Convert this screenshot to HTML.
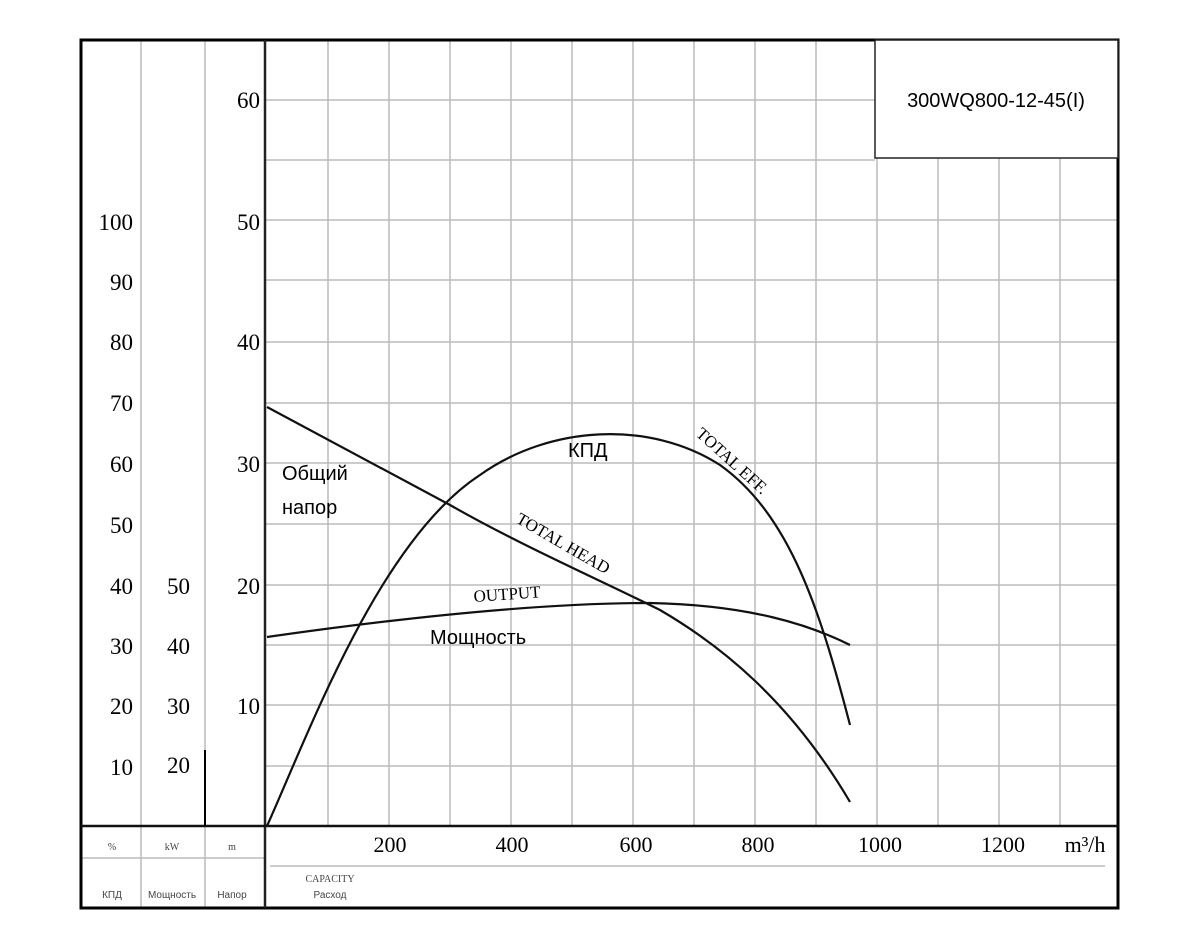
<!DOCTYPE html><html><head><style>body{margin:0;background:#fff}svg{display:block}</style></head><body>
<svg width="1200" height="950" xmlns="http://www.w3.org/2000/svg" font-family="Liberation Serif, serif">
<rect width="1200" height="950" fill="#fff"/>
<g stroke="#bbb" stroke-width="1.5">
<line x1="141" y1="40" x2="141" y2="908"/><line x1="205" y1="40" x2="205" y2="908"/>
<line x1="328" y1="40" x2="328" y2="826"/><line x1="389" y1="40" x2="389" y2="826"/><line x1="450" y1="40" x2="450" y2="826"/><line x1="511" y1="40" x2="511" y2="826"/><line x1="572" y1="40" x2="572" y2="826"/><line x1="633" y1="40" x2="633" y2="826"/><line x1="694" y1="40" x2="694" y2="826"/><line x1="755" y1="40" x2="755" y2="826"/><line x1="816" y1="40" x2="816" y2="826"/><line x1="877" y1="158" x2="877" y2="826"/><line x1="938" y1="158" x2="938" y2="826"/><line x1="999" y1="158" x2="999" y2="826"/><line x1="1060" y1="158" x2="1060" y2="826"/>
<line x1="265" y1="100" x2="875" y2="100"/><line x1="265" y1="160" x2="875" y2="160"/><line x1="265" y1="220" x2="1118" y2="220"/><line x1="265" y1="280" x2="1118" y2="280"/><line x1="265" y1="342" x2="1118" y2="342"/><line x1="265" y1="403" x2="1118" y2="403"/><line x1="265" y1="463" x2="1118" y2="463"/><line x1="265" y1="524" x2="1118" y2="524"/><line x1="265" y1="585" x2="1118" y2="585"/><line x1="265" y1="645" x2="1118" y2="645"/><line x1="265" y1="705" x2="1118" y2="705"/><line x1="265" y1="766" x2="1118" y2="766"/>
<line x1="82" y1="858" x2="265" y2="858"/><line x1="270" y1="866" x2="1105" y2="866"/>
</g>
<rect x="81" y="40" width="1037" height="868" fill="none" stroke="#000" stroke-width="3"/>
<line x1="265" y1="40" x2="265" y2="908" stroke="#222" stroke-width="2.5"/>
<line x1="81" y1="826" x2="1118" y2="826" stroke="#111" stroke-width="2.5"/>
<rect x="875" y="40" width="243" height="118" fill="#fff" stroke="#222" stroke-width="1.5"/>
<line x1="205" y1="750" x2="205" y2="826" stroke="#000" stroke-width="2"/>
<text x="996" y="107" font-family="Liberation Sans, sans-serif" font-size="20" text-anchor="middle">300WQ800-12-45(I)</text>
<g font-size="23" text-anchor="end">
<text x="260" y="108">60</text><text x="260" y="230">50</text><text x="260" y="350">40</text><text x="260" y="472">30</text><text x="260" y="594">20</text><text x="260" y="714">10</text>
<text x="133" y="230">100</text><text x="133" y="290">90</text><text x="133" y="350">80</text><text x="133" y="411">70</text><text x="133" y="472">60</text><text x="133" y="533">50</text><text x="133" y="594">40</text><text x="133" y="654">30</text><text x="133" y="714">20</text><text x="133" y="775">10</text>
<text x="190" y="594">50</text><text x="190" y="654">40</text><text x="190" y="714">30</text><text x="190" y="773">20</text>
</g>
<g font-size="22" text-anchor="middle">
<text x="390" y="852">200</text><text x="512" y="852">400</text><text x="636" y="852">600</text><text x="758" y="852">800</text><text x="880" y="852">1000</text><text x="1003" y="852">1200</text><text x="1085" y="852">m³/h</text>
</g>
<g font-size="10" text-anchor="middle" fill="#444">
<text x="112" y="850">%</text><text x="172" y="850">kW</text><text x="232" y="850">m</text>
<text x="112" y="898" font-family="Liberation Sans,sans-serif">КПД</text><text x="172" y="898" font-family="Liberation Sans,sans-serif">Мощность</text><text x="232" y="898" font-family="Liberation Sans,sans-serif">Напор</text>
<text x="330" y="882">CAPACITY</text><text x="330" y="898" font-family="Liberation Sans,sans-serif">Расход</text>
</g>
<g fill="none" stroke="#111" stroke-width="2.2">
<path d="M267,407 L450,505 C520,545 600,580 660,610 C720,645 790,700 850,802"/>
<path d="M267,826 C310,730 380,540 480,475 C550,425 650,420 720,465 C790,515 820,610 850,725"/>
<path d="M267,637 C400,618 540,603 650,603 C750,605 810,625 850,645"/>
</g>
<g font-family="Liberation Sans, sans-serif" font-size="20">
<text x="568" y="457">КПД</text><text x="282" y="480">Общий</text><text x="282" y="514">напор</text><text x="430" y="644">Мощность</text>
</g>
<g font-size="17">
<text x="474" y="602" transform="rotate(-4 474 602)">OUTPUT</text>
<text x="515" y="522" transform="rotate(30 515 522)">TOTAL HEAD</text>
<text x="695" y="435" transform="rotate(42 695 435)">TOTAL EFF.</text>
</g>
</svg>
</body></html>
